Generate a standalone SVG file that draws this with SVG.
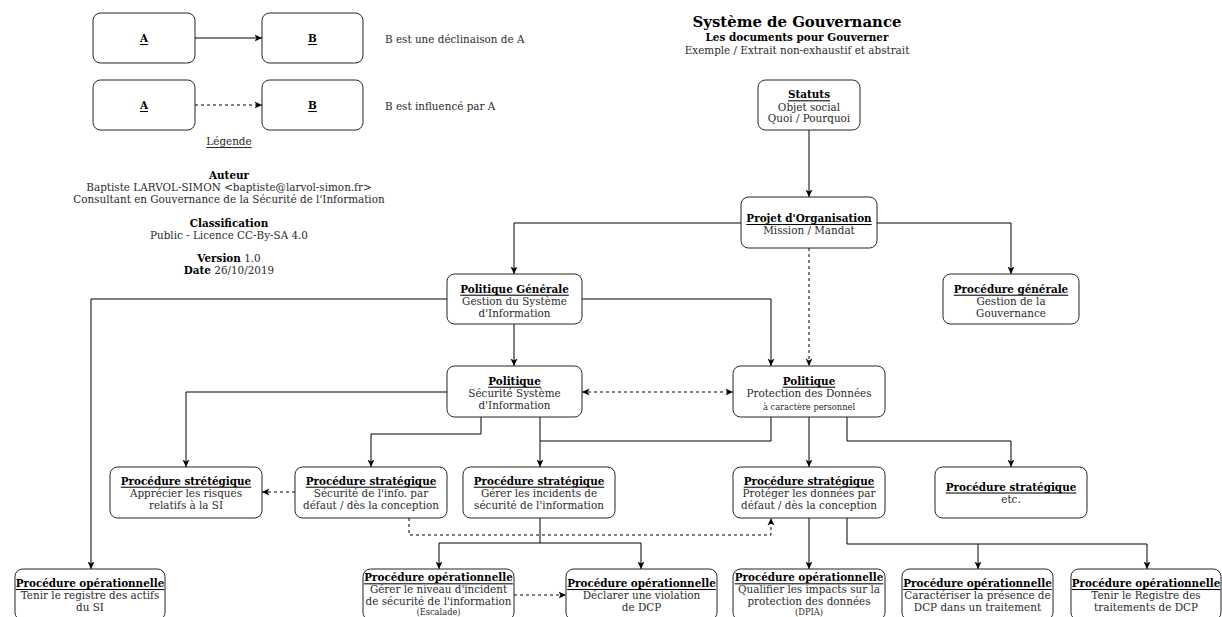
<svg xmlns="http://www.w3.org/2000/svg" width="1222" height="617" viewBox="0 0 1222 617">
<style>
text{font-family:"DejaVu Serif","Liberation Serif",serif;font-size:10.4px;fill:#2a2a2a;text-anchor:middle;dominant-baseline:central}
.b{font-weight:bold;fill:#000}
.u{text-decoration:underline}
.s{font-size:8.3px}
.l{text-anchor:start}
.box{fill:#fff;stroke:#222;stroke-width:1}
.c{fill:none;stroke:#000;stroke-width:1}
.d{stroke-dasharray:3 3}
</style>
<defs>
<marker id="arr" viewBox="0 0 8 8" refX="7.5" refY="4" markerWidth="8" markerHeight="8" orient="auto-start-reverse" markerUnits="userSpaceOnUse">
<path d="M0,0.5 L7.5,4 L0,7.5 L2,4 Z" fill="#000"/>
</marker>
</defs>
<rect width="1222" height="617" fill="#fff"/>

<g id="legend">
<rect class="box" x="93" y="13" width="102" height="50" rx="7.5"/>
<text class="b u" x="144" y="38">A</text>
<rect class="box" x="262" y="13" width="101" height="50" rx="7.5"/>
<text class="b u" x="312.5" y="38">B</text>
<text class="l" x="385" y="39">B est une déclinaison de A</text>
<rect class="box" x="93" y="80" width="102" height="50" rx="7.5"/>
<text class="b u" x="144" y="105">A</text>
<rect class="box" x="262" y="80" width="101" height="50" rx="7.5"/>
<text class="b u" x="312.5" y="105">B</text>
<text class="l" x="385" y="106">B est influencé par A</text>
<path class="c" d="M195,38 H262" marker-end="url(#arr)"/>
<path class="c d" d="M195,105 H262" marker-end="url(#arr)"/>
<text class="u" x="229" y="141">Légende</text>
</g>

<g id="title">
<text class="b" x="797" y="22" style="font-size:14.9px">Système de Gouvernance</text>
<text class="b" x="797" y="37">Les documents pour Gouverner</text>
<text x="797" y="50">Exemple / Extrait non-exhaustif et abstrait</text>
</g>

<g id="author">
<text class="b" x="229" y="175">Auteur</text>
<text x="229" y="187">Baptiste LARVOL-SIMON &lt;baptiste@larvol-simon.fr&gt;</text>
<text x="229" y="199">Consultant en Gouvernance de la Sécurité de l'Information</text>
<text class="b" x="229" y="223">Classification</text>
<text x="229" y="235">Public - Licence CC-By-SA 4.0</text>
<text x="229" y="258"><tspan class="b">Version</tspan> 1.0</text>
<text x="229" y="270"><tspan class="b">Date</tspan> 26/10/2019</text>
</g>

<g id="connectors">
<path class="c" d="M809,130 V197" marker-end="url(#arr)"/>
<path class="c" d="M741,223 H514 V274" marker-end="url(#arr)"/>
<path class="c" d="M877,223 H1011 V274" marker-end="url(#arr)"/>
<path class="c d" d="M809,248 V366" marker-end="url(#arr)"/>
<path class="c" d="M447,299 H91 V569" marker-end="url(#arr)"/>
<path class="c" d="M582,299 H771 V366" marker-end="url(#arr)"/>
<path class="c" d="M514,324 V366" marker-end="url(#arr)"/>
<path class="c d" d="M582,392 H733" marker-start="url(#arr)" marker-end="url(#arr)"/>
<path class="c" d="M447,392 H186 V467" marker-end="url(#arr)"/>
<path class="c" d="M481,417 V434 H371 V467" marker-end="url(#arr)"/>
<path class="c" d="M540,417 V467" marker-end="url(#arr)"/>
<path class="c" d="M771,417 V441 H540"/>
<path class="c" d="M809,417 V467" marker-end="url(#arr)"/>
<path class="c" d="M847,417 V441 H1011 V467" marker-end="url(#arr)"/>
<path class="c d" d="M295,492 H262" marker-end="url(#arr)"/>
<path class="c d" d="M409,518 V535 H771 V518" marker-end="url(#arr)"/>
<path class="c" d="M540,518 V543 H439 V569" marker-end="url(#arr)"/>
<path class="c" d="M540,543 H641 V569" marker-end="url(#arr)"/>
<path class="c d" d="M514,595 H566" marker-end="url(#arr)"/>
<path class="c" d="M809,518 V569" marker-end="url(#arr)"/>
<path class="c" d="M847,518 V544 H978 V569" marker-end="url(#arr)"/>
<path class="c" d="M978,544 H1147 V569" marker-end="url(#arr)"/>
</g>

<g id="statuts">
<rect class="box" x="758" y="80" width="102" height="50" rx="7.5"/>
<text class="b u" x="809" y="94.3">Statuts</text>
<text x="809" y="106.5">Objet social</text>
<text x="809" y="118.3">Quoi / Pourquoi</text>
</g>
<g id="projet">
<rect class="box" x="741" y="197" width="136" height="51" rx="7.5"/>
<text class="b u" x="809" y="218">Projet d'Organisation</text>
<text x="809" y="230">Mission / Mandat</text>
</g>
<g id="politique-generale">
<rect class="box" x="447" y="274" width="135" height="50" rx="7.5"/>
<text class="b u" x="514.5" y="288.7">Politique Générale</text>
<text x="514.5" y="300.5">Gestion du Système</text>
<text x="514.5" y="312.5">d'Information</text>
</g>
<g id="procedure-generale">
<rect class="box" x="943" y="274" width="136" height="50" rx="7.5"/>
<text class="b u" x="1011" y="288.7">Procédure générale</text>
<text x="1011" y="300.5">Gestion de la</text>
<text x="1011" y="312.5">Gouvernance</text>
</g>
<g id="politique-ssi">
<rect class="box" x="447" y="366" width="135" height="51" rx="7.5"/>
<text class="b u" x="514.5" y="380.7">Politique</text>
<text x="514.5" y="392.7">Sécurité Système</text>
<text x="514.5" y="404.5">d'Information</text>
</g>
<g id="politique-pd">
<rect class="box" x="733" y="366" width="152" height="51" rx="7.5"/>
<text class="b u" x="809" y="380.7">Politique</text>
<text x="809" y="393">Protection des Données</text>
<text class="s" x="809" y="406.5">à caractère personnel</text>
</g>
<g id="ps-risques">
<rect class="box" x="110" y="467" width="152" height="51" rx="7.5"/>
<text class="b u" x="186" y="480.7">Procédure strétégique</text>
<text x="186" y="492.7">Apprécier les risques</text>
<text x="186" y="504.5">relatifs à la SI</text>
</g>
<g id="ps-securite-defaut">
<rect class="box" x="295" y="467" width="152" height="51" rx="7.5"/>
<text class="b u" x="371" y="480.7">Procédure stratégique</text>
<text x="371" y="492.7">Sécurité de l'info. par</text>
<text x="371" y="504.5">défaut / dès la conception</text>
</g>
<g id="ps-incidents">
<rect class="box" x="463" y="467" width="152" height="51" rx="7.5"/>
<text class="b u" x="539" y="480.7">Procédure stratégique</text>
<text x="539" y="492.7">Gérer les incidents de</text>
<text x="539" y="504.5">sécurité de l'information</text>
</g>
<g id="ps-proteger">
<rect class="box" x="733" y="467" width="152" height="51" rx="7.5"/>
<text class="b u" x="809" y="480.7">Procédure stratégique</text>
<text x="809" y="492.7">Protéger les données par</text>
<text x="809" y="504.5">défaut / dès la conception</text>
</g>
<g id="ps-etc">
<rect class="box" x="935" y="467" width="152" height="51" rx="7.5"/>
<text class="b u" x="1011" y="486.5">Procédure stratégique</text>
<text x="1011" y="498.5">etc.</text>
</g>
<g id="po-actifs">
<rect class="box" x="15" y="569" width="150" height="51" rx="7.5"/>
<text class="b u" x="90" y="583">Procédure opérationnelle</text>
<text x="90" y="595">Tenir le registre des actifs</text>
<text x="90" y="606.8">du SI</text>
</g>
<g id="po-escalade">
<rect class="box" x="363" y="569" width="151" height="51" rx="7.5"/>
<text class="b u" x="438.5" y="577.3">Procédure opérationnelle</text>
<text x="438.5" y="589.2">Gérer le niveau d'incident</text>
<text x="438.5" y="601.2">de sécurité de l'information</text>
<text class="s" x="438.5" y="612.3">(Escalade)</text>
</g>
<g id="po-violation">
<rect class="box" x="566" y="569" width="151" height="51" rx="7.5"/>
<text class="b u" x="641.5" y="583">Procédure opérationnelle</text>
<text x="641.5" y="595">Déclarer une violation</text>
<text x="641.5" y="606.8">de DCP</text>
</g>
<g id="po-dpia">
<rect class="box" x="733" y="569" width="152" height="51" rx="7.5"/>
<text class="b u" x="809" y="577.3">Procédure opérationnelle</text>
<text x="809" y="589.2">Qualifier les impacts sur la</text>
<text x="809" y="601.2">protection des données</text>
<text class="s" x="809" y="612.3">(DPIA)</text>
</g>
<g id="po-dcp">
<rect class="box" x="902" y="569" width="151" height="51" rx="7.5"/>
<text class="b u" x="977.5" y="583">Procédure opérationnelle</text>
<text x="977.5" y="595">Caractériser la présence de</text>
<text x="977.5" y="606.8">DCP dans un traitement</text>
</g>
<g id="po-registre">
<rect class="box" x="1071" y="569" width="150" height="51" rx="7.5"/>
<text class="b u" x="1146" y="583">Procédure opérationnelle</text>
<text x="1146" y="595">Tenir le Registre des</text>
<text x="1146" y="606.8">traitements de DCP</text>
</g>
</svg>
